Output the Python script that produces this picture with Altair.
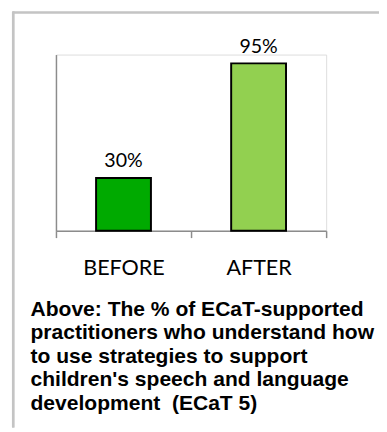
import altair as alt
import pandas as pd

categories = ["BEFORE", "AFTER"]
values = [30, 95]
bar_colors = ["#00aa00", "#92d050"]
caption_lines = [
    "Above: The % of ECaT-supported",
    "practitioners who understand how",
    "to use strategies to support",
    "children's speech and language",
    "development\u00a0 (ECaT 5)",
]

df = pd.DataFrame({"phase": categories, "value": values})
df["label"] = [f"{v}%" for v in values]

x_enc = alt.X(
    "phase:N",
    sort=categories,
    scale=alt.Scale(paddingInner=0, paddingOuter=0),
    axis=alt.Axis(
        title=None,
        labelAngle=0,
        tickBand="extent",
        domainColor="#8c8c8c",
        domainWidth=1.5,
        tickColor="#8c8c8c",
        tickWidth=1.5,
        tickSize=7,
        labelFont="Lato",
        labelFontSize=22,
        labelColor="#000000",
        labelPadding=21,
        grid=False,
    ),
)
y_enc = alt.Y(
    "value:Q",
    scale=alt.Scale(domain=[0, 100], nice=False),
    axis=alt.Axis(
        title=None,
        labels=False,
        ticks=False,
        grid=False,
        domainColor="#8c8c8c",
        domainWidth=1.5,
    ),
)

bars = alt.Chart(df).mark_bar(
    stroke="#000000", strokeWidth=2, width=alt.RelativeBandSize(0.406)
).encode(
    x=x_enc,
    y=y_enc,
    color=alt.Color(
        "phase:N",
        scale=alt.Scale(domain=categories, range=bar_colors),
        legend=None,
    ),
)

labels = alt.Chart(df).mark_text(
    font="Lato", fontSize=20, dy=-11, baseline="alphabetic", color="#000000"
).encode(x=alt.X("phase:N", sort=categories), y="value:Q", text="label:N")

frame_top = alt.Chart(df).mark_rule(color="#c4c4c4", strokeWidth=2).encode(
    x=alt.value(-44), x2=alt.value(330), y=alt.value(-43)
)
frame_left = alt.Chart(df).mark_rule(color="#c4c4c4", strokeWidth=2.5).encode(
    x=alt.value(-43.7), y=alt.value(-44), y2=alt.value(381)
)

caption = alt.Chart(pd.DataFrame({"k": [0]})).mark_text(
    font="Liberation Sans",
    fontSize=21.5,
    fontWeight="bold",
    color="#000000",
    align="left",
    baseline="alphabetic",
    lineHeight=24,
).encode(
    x=alt.value(-26),
    y=alt.value(267),
    text=alt.value(caption_lines),
)

chart = (
    alt.layer(frame_top, frame_left, bars, labels, caption)
    .properties(
        width=276,
        height=180,
        padding={"left": 49, "top": 43, "right": 54, "bottom": 201},
        autosize=alt.AutoSizeParams(type="none"),
    )
    .configure_view(strokeWidth=0, stroke="transparent")
    .configure(background="#ffffff")
)

chart.save("out.html", embed_options={"renderer": "svg", "actions": False})
